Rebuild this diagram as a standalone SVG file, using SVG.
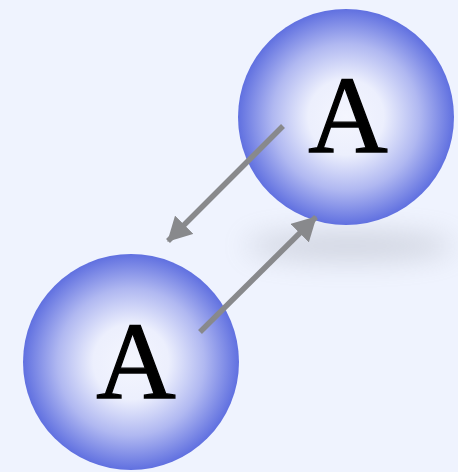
<svg xmlns="http://www.w3.org/2000/svg" width="458" height="472" viewBox="0 0 458 472">
<style>
.node-label{font-family:"Liberation Serif","Times New Roman",serif;font-size:110px;fill:#000;stroke:#000;stroke-width:1.3;text-anchor:middle}
.conn{stroke:#88898c;stroke-width:5.5;fill:none}
</style>
<defs>
<radialGradient id="ball" cx="0.5" cy="0.5" r="0.5">
<stop offset="0" stop-color="#f4f6fe"/>
<stop offset="0.35" stop-color="#eceffd"/>
<stop offset="0.68" stop-color="#b0b8f1"/>
<stop offset="1" stop-color="#6070e0"/>
</radialGradient>
<filter id="blur" x="-50%" y="-300%" width="200%" height="700%">
<feGaussianBlur stdDeviation="14"/>
</filter>
<marker id="arrow" viewBox="0 0 24 26" refX="23" refY="13" markerWidth="24" markerHeight="26" orient="auto" markerUnits="userSpaceOnUse">
<path d="M0,0 L24,13 L0,26 Z" fill="#88898c"/>
</marker>
</defs>
<rect width="458" height="472" fill="#eff3fe"/>
<ellipse cx="350" cy="246" rx="105" ry="14" fill="#8a8f9c" opacity="0.32" filter="url(#blur)"/>
<g id="node-top">
<circle cx="346" cy="117" r="108" fill="url(#ball)"/>
<text class="node-label" x="348" y="152">A</text>
</g>
<g id="node-bottom">
<circle cx="131" cy="362" r="108" fill="url(#ball)"/>
<text class="node-label" x="136" y="398">A</text>
</g>
<g id="connectors">
<line class="conn" x1="283" y1="126" x2="168" y2="241" marker-end="url(#arrow)"/>
<line class="conn" x1="200" y1="332" x2="316" y2="217" marker-end="url(#arrow)"/>
</g>
</svg>
